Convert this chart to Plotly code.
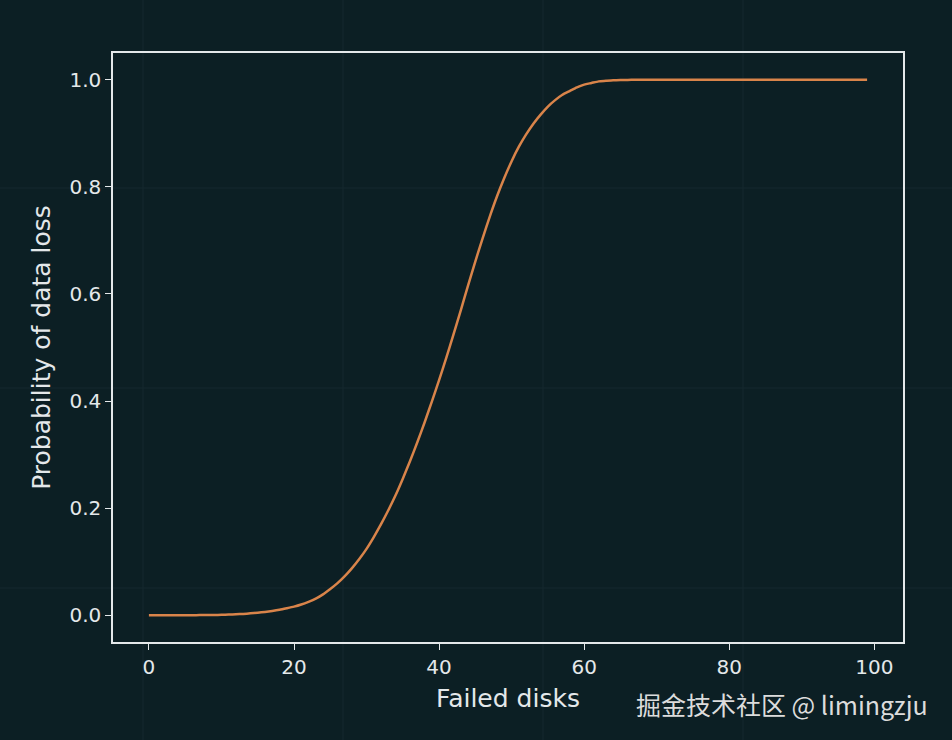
# Probability of data loss vs. number of failed disks
import plotly.graph_objs as go

# Data
failed_disks = list(range(100))
p_loss = [0.0, 0.0, 0.0, 0.0, 0.0, 0.0, 0.0001, 0.0002, 0.0003, 0.0005,
          0.0008, 0.0012, 0.0018, 0.0025, 0.0035, 0.0047, 0.0062, 0.008, 0.0102, 0.013,
          0.016, 0.020, 0.025, 0.031, 0.039, 0.049, 0.060, 0.073, 0.088, 0.105,
          0.124, 0.146, 0.170, 0.196, 0.224, 0.255, 0.288, 0.323, 0.360, 0.399,
          0.439, 0.481, 0.525, 0.570, 0.616, 0.661, 0.704, 0.745, 0.783, 0.817,
          0.848, 0.875, 0.898, 0.918, 0.935, 0.950, 0.962, 0.972, 0.979, 0.986,
          0.991, 0.994, 0.997, 0.998, 0.999, 0.9995, 0.9998, 1.0, 1.0, 1.0,
          1.0, 1.0, 1.0, 1.0, 1.0, 1.0, 1.0, 1.0, 1.0, 1.0,
          1.0, 1.0, 1.0, 1.0, 1.0, 1.0, 1.0, 1.0, 1.0, 1.0,
          1.0, 1.0, 1.0, 1.0, 1.0, 1.0, 1.0, 1.0, 1.0, 1.0]

bg = '#0c1f24'
fg = '#e4e8ea'
font = 'DejaVu Sans'

# Create trace
trace = go.Scatter(x = failed_disks,
                   y = p_loss,
                   mode = 'lines',
                   line = dict(color = '#d9844a', width = 2.5, shape = 'spline', smoothing = 0.6),
                   hoverinfo = 'x+y')

# Create layout
layout = go.Layout(width = 952, height = 740,
                   paper_bgcolor = bg,
                   plot_bgcolor = bg,
                   margin = dict(l = 113, r = 49, t = 53, b = 98),
                   showlegend = False,
                   font = dict(family = font, color = fg, size = 20),
                   xaxis = dict(title = dict(text = 'Failed disks', font = dict(size = 25), standoff = 12),
                                range = [-4.95, 103.95],
                                tickvals = [0, 20, 40, 60, 80, 100],
                                ticks = 'outside', ticklen = 6, tickwidth = 1.3, tickcolor = fg,
                                showgrid = False, zeroline = False,
                                showline = True, linecolor = fg, linewidth = 1.5, mirror = True),
                   yaxis = dict(title = dict(text = 'Probability of data loss', font = dict(size = 25), standoff = 12),
                                range = [-0.05, 1.05],
                                tickvals = [0, 0.2, 0.4, 0.6, 0.8, 1.0],
                                tickformat = '.1f',
                                ticks = 'outside', ticklen = 6, tickwidth = 1.3, tickcolor = fg,
                                showgrid = False, zeroline = False,
                                showline = True, linecolor = fg, linewidth = 1.5, mirror = True))

fig = go.Figure(data = [trace], layout = layout)

# faint background texture grid (every 200 px over the whole picture)
for px in [143, 343, 543, 743]:
    fig.add_shape(type = 'line', xref = 'paper', yref = 'paper', layer = 'below',
                  x0 = (px - 113) / 790, x1 = (px - 113) / 790, y0 = -98 / 589, y1 = 1 + 53 / 589,
                  line = dict(color = '#15292e', width = 1))
for py in [188, 388, 588]:
    fig.add_shape(type = 'line', xref = 'paper', yref = 'paper', layer = 'below',
                  x0 = -113 / 790, x1 = 1 + 49 / 790, y0 = (642 - py) / 589, y1 = (642 - py) / 589,
                  line = dict(color = '#15292e', width = 1))

# watermark
fig.add_annotation(text = '掘金技术社区 @ limingzju', xref = 'paper', yref = 'paper',
                   x = 1 + 27 / 790, y = -62 / 589, xanchor = 'right', yanchor = 'middle',
                   showarrow = False,
                   font = dict(family = 'Noto Sans CJK SC', size = 25, color = '#dcdcdc'))

# drop the page margin so the figure fills the window
fig.write_html('out.html', config = dict(displayModeBar = False),
               post_script = "document.body.style.margin='0';document.body.style.background='%s';" % bg)
